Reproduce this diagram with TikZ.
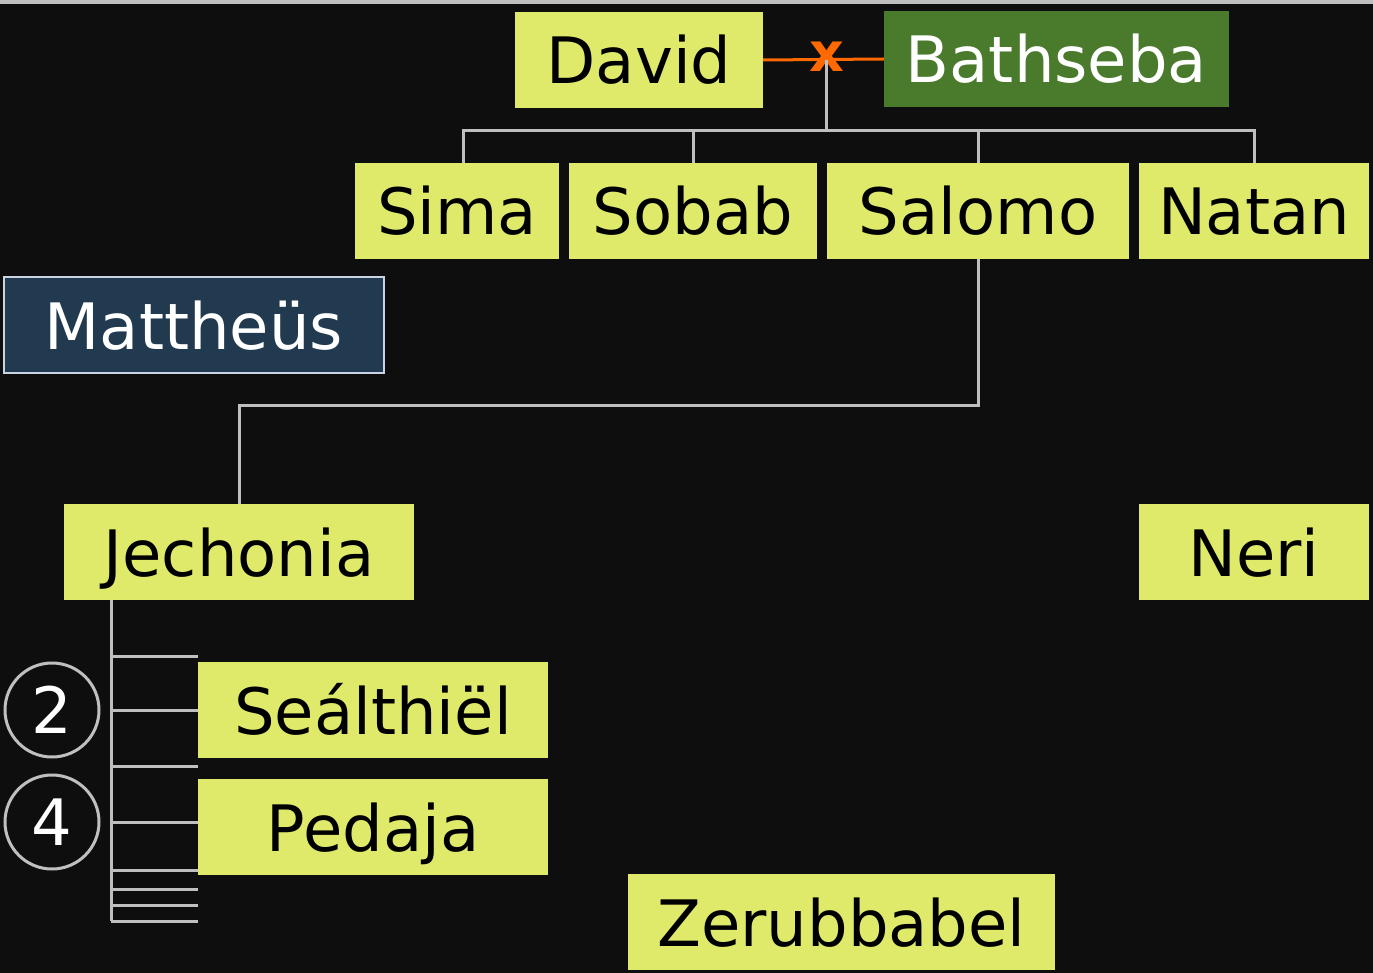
\documentclass[tikz,border=0pt]{standalone}
\usepackage{fontspec}
\setmainfont{DejaVu Sans}
\usepackage{tikz}
\usetikzlibrary{calc}
\definecolor{bg}{HTML}{0E0E0E}
\definecolor{lime}{HTML}{DFEA6A}
\definecolor{leaf}{HTML}{4A7A2C}
\definecolor{navy}{HTML}{213A4F}
\definecolor{rim}{HTML}{C9D3E3}
\definecolor{rule}{HTML}{BFBFBF}
\definecolor{flame}{HTML}{FF6A00}
\tikzset{
  person/.style={fill=lime, text=black, inner sep=0pt, minimum height=96pt,
    text height=72pt, text depth=24pt, font=\fontsize{64}{70}\selectfont},
  wife/.style={person, fill=leaf, text=white},
  gospel/.style={person, fill=navy, draw=rim, line width=2pt, text=white},
  branch/.style={draw=rule, line width=3pt},
  marriage/.style={draw=flame, line width=3pt},
  count/.style={circle, draw=rule, line width=3pt, minimum size=94pt, inner sep=0pt,
    text=white, font=\fontsize{64}{70}\selectfont},
}

\begin{document}
\begin{tikzpicture}[x=1pt,y=-1pt]
  \fill[bg] (0,0) rectangle (1373,973);
  \fill[rule] (0,0) rectangle (1373,4);
  \useasboundingbox (0,0) rectangle (1373,973);

  % David and Bathseba
  \node[person, minimum width=248pt] (David) at (639,60) {David};
  \node[wife, minimum width=345pt] (Bathseba) at (1056.5,59) {Bathseba};
  \draw[marriage] (David.east) -- (Bathseba.west);
  \node[text=flame, font=\fontsize{54}{54}\bfseries\selectfont, inner sep=0pt] (wedx) at (827,57) {x};
  \coordinate (wed) at (826,60);
  \coordinate (rail) at (826,131);

  % sons
  \node[person, minimum width=204pt] (Sima) at (457,211) {Sima};
  \node[person, minimum width=248pt] (Sobab) at (693,211) {Sobab};
  \node[person, minimum width=302pt] (Salomo) at (978,211) {Salomo};
  \node[person, minimum width=230pt] (Natan) at (1254,211) {Natan};
  \draw[branch] (wed) -- (rail);
  \draw[branch] ([xshift=6pt]Sima.north) |- (rail) -| (Natan.north);
  \draw[branch] (Sobab.north) -- (Sobab.north |- rail);
  \draw[branch] (Salomo.north) -- (Salomo.north |- rail);

  \node[gospel, minimum width=380pt, minimum height=95pt] (Mattheus) at (194,325.5) {Mattheüs};

  % Salomo line
  \node[person, minimum width=350pt] (Jechonia) at (239,552) {Jechonia};
  \node[person, minimum width=230pt] (Neri) at (1254,552) {Neri};
  \coordinate (turn) at (239,405);
  \draw[branch] (Salomo.south) |- (turn) -- (Jechonia.north);

  % Jechonia's sons
  \node[person, minimum width=350pt] (Sealthiel) at (373,710) {Seálthiël};
  \node[person, minimum width=350pt] (Pedaja) at (373,827) {Pedaja};
  \node[count] (two) at (52,710) {2};
  \node[count] (four) at (52,822) {4};
  \coordinate (stem) at (111,921);
  \draw[branch] (stem |- Jechonia.south) -- (stem);
  \draw[branch] (stem |- two.east) -- (two.east -| Sealthiel.west);
  \draw[branch] (stem |- four.east) -- (four.east -| Pedaja.west);
  \foreach \y in {656,766,870,889,905,921}
    \draw[branch] (111,\y) -- (198,\y);

  \node[person, minimum width=427pt] (Zerubbabel) at (841.5,922) {Zerubbabel};
\end{tikzpicture}
\end{document}
